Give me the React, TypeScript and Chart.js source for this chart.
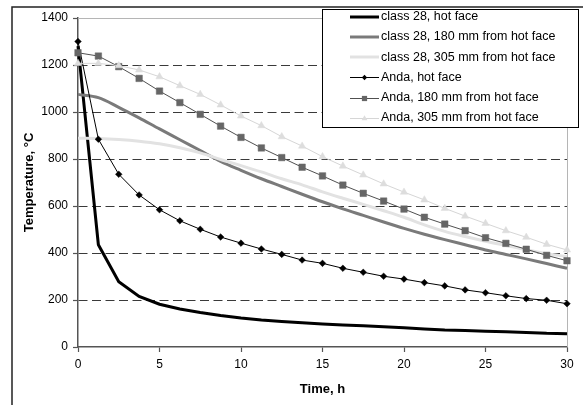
import React, { useEffect, useRef } from 'react';
import { Chart, registerables } from 'chart.js';

Chart.register(...registerables);

const FONT = "'Liberation Sans', Arial, sans-serif";

// Time, h
const times = [0, 1.25, 2.5, 3.75, 5, 6.25, 7.5, 8.75, 10, 11.25, 12.5, 13.75, 15, 16.25, 17.5, 18.75, 20, 21.25, 22.5, 23.75, 25, 26.25, 27.5, 28.75, 30];

// Temperature, °C
const class28Hot = [1280, 435, 278, 215, 182, 162, 147, 134, 123, 115, 109, 103, 98, 94, 90, 86, 82, 77, 72, 70, 67, 65, 62, 58, 56];
const class28At180 = [1075, 1061, 1020, 975, 928, 882, 836, 790, 752, 716, 683, 650, 618, 588, 560, 532, 505, 480, 457, 435, 413, 394, 375, 355, 335];
const class28At305 = [888, 887, 883, 876, 865, 848, 826, 798, 772, 745, 716, 690, 660, 633, 607, 580, 552, 520, 492, 470, 450, 432, 414, 397, 385];
const andaHot = [1300, 884, 735, 647, 584, 537, 501, 468, 442, 417, 394, 370, 356, 335, 318, 301, 289, 274, 260, 243, 231, 218, 206, 199, 184];
const andaAt180 = [1252, 1238, 1193, 1143, 1089, 1040, 990, 940, 892, 847, 806, 765, 728, 689, 654, 621, 587, 552, 523, 495, 465, 441, 416, 390, 367];
const andaAt305 = [1207, 1207, 1197, 1179, 1150, 1112, 1075, 1030, 983, 942, 895, 855, 810, 770, 732, 694, 659, 626, 590, 557, 526, 495, 467, 437, 413];

const seriesLabels = [
  'class 28, hot face',
  'class 28, 180 mm from hot face',
  'class 28, 305 mm from hot face',
  'Anda, hot face',
  'Anda, 180 mm from hot face',
  'Anda, 305 mm from hot face',
];

const xTitle = 'Time, h';
const yTitle = 'Temperature, °C';

type Style = {
  color: string;
  width: number;
  marker: 'none' | 'rectRot' | 'rect' | 'triangle';
  markerColor: string;
  radius: number;
  smooth: boolean;
};

const styles: Style[] = [
  { color: '#000000', width: 3, marker: 'none', markerColor: '#000', radius: 0, smooth: false },
  { color: '#7a7a7a', width: 3, marker: 'none', markerColor: '#7a7a7a', radius: 0, smooth: true },
  { color: '#e2e2e2', width: 3, marker: 'none', markerColor: '#e2e2e2', radius: 0, smooth: true },
  { color: '#000000', width: 1, marker: 'rectRot', markerColor: '#000000', radius: 3.3, smooth: false },
  { color: '#505050', width: 1, marker: 'rect', markerColor: '#666666', radius: 4.6, smooth: false },
  { color: '#d6d6d6', width: 1, marker: 'triangle', markerColor: '#dddddd', radius: 4.2, smooth: false },
];

const seriesValues = [class28Hot, class28At180, class28At305, andaHot, andaAt180, andaAt305];

function drawMarker(ctx: CanvasRenderingContext2D, kind: string, x: number, y: number, r: number, color: string) {
  ctx.save();
  ctx.fillStyle = color;
  ctx.beginPath();
  if (kind === 'rectRot') {
    ctx.moveTo(x, y - r);
    ctx.lineTo(x + r, y);
    ctx.lineTo(x, y + r);
    ctx.lineTo(x - r, y);
  } else if (kind === 'rect') {
    const s = r * Math.SQRT1_2;
    ctx.rect(x - s, y - s, 2 * s, 2 * s);
  } else if (kind === 'triangle') {
    ctx.moveTo(x, y - r);
    ctx.lineTo(x + r * Math.sin((2 * Math.PI) / 3), y - r * Math.cos((2 * Math.PI) / 3));
    ctx.lineTo(x - r * Math.sin((2 * Math.PI) / 3), y - r * Math.cos((2 * Math.PI) / 3));
  }
  ctx.closePath();
  ctx.fill();
  ctx.restore();
}

export default function App() {
  const ref = useRef<HTMLCanvasElement>(null);

  useEffect(() => {
    const canvas = ref.current;
    if (!canvas) return;

    const framePlugin = {
      id: 'frame',
      beforeDraw(chart: any) {
        const c = chart.ctx as CanvasRenderingContext2D;
        c.save();
        c.fillStyle = '#ffffff';
        c.fillRect(0, 0, chart.width, chart.height);
        c.strokeStyle = '#222222';
        c.lineWidth = 1.5;
        c.beginPath();
        c.moveTo(12, chart.height);
        c.lineTo(12, 7);
        c.lineTo(chart.width, 7);
        c.stroke();
        c.restore();
      },
      beforeDatasetsDraw(chart: any) {
        const c = chart.ctx as CanvasRenderingContext2D;
        const a = chart.chartArea;
        const yTop = Math.round(chart.scales.y.getPixelForValue(1400)) + 0.5;
        c.save();
        c.strokeStyle = '#b5b5b5';
        c.lineWidth = 1;
        c.beginPath();
        c.moveTo(a.left, yTop);
        c.lineTo(Math.round(a.right) + 0.5, yTop);
        c.lineTo(Math.round(a.right) + 0.5, a.bottom);
        c.stroke();
        c.restore();
      },
    };

    const legendPlugin = {
      id: 'boxLegend',
      afterDraw(chart: any) {
        const c = chart.ctx as CanvasRenderingContext2D;
        const bx = 322.5, by = 9.5, bw = 256, bh = 118;
        c.save();
        c.fillStyle = '#ffffff';
        c.fillRect(bx, by, bw, bh);
        c.strokeStyle = '#000000';
        c.lineWidth = 1;
        c.strokeRect(bx, by, bw, bh);
        c.font = `12.5px ${FONT}`;
        c.textBaseline = 'middle';
        c.textAlign = 'left';
        seriesLabels.forEach((label, i) => {
          const st = styles[i];
          const y = 16.5 + i * 20.3;
          c.strokeStyle = st.color;
          c.lineWidth = st.width;
          c.beginPath();
          c.moveTo(350, Math.round(y) + (st.width === 1 ? 0.5 : 0));
          c.lineTo(379, Math.round(y) + (st.width === 1 ? 0.5 : 0));
          c.stroke();
          if (st.marker !== 'none') {
            drawMarker(c, st.marker, 364.5, Math.round(y) + 0.5, st.radius * 0.8, st.markerColor);
          }
          c.fillStyle = '#000000';
          c.fillText(label, 381, y);
        });
        c.restore();
      },
    };

    const datasets = seriesLabels.map((label, i) => {
      const st = styles[i];
      return {
        label,
        data: times.map((t, j) => ({ x: t, y: seriesValues[i][j] })),
        borderColor: st.color,
        backgroundColor: st.markerColor,
        borderWidth: st.width,
        pointStyle: st.marker === 'none' ? 'circle' : st.marker,
        pointRadius: st.radius,
        pointBackgroundColor: st.markerColor,
        pointBorderColor: st.markerColor,
        pointBorderWidth: 0.5,
        cubicInterpolationMode: st.smooth ? 'monotone' : 'default',
        tension: 0,
        fill: false,
        clip: false,
        order: 5 - i,
      };
    });

    const chart = new Chart(canvas, {
      type: 'line',
      data: { datasets } as any,
      plugins: [framePlugin, legendPlugin],
      options: {
        responsive: false,
        animation: false,
        devicePixelRatio: 1,
        layout: { padding: { left: 0, right: 16, top: 18, bottom: 0 } },
        plugins: { legend: { display: false }, tooltip: { enabled: false } },
        scales: {
          x: {
            type: 'linear',
            min: 0,
            max: 30,
            ticks: { stepSize: 5, color: '#000', font: { family: FONT, size: 12 }, padding: 5, maxRotation: 0, callback: (v: any) => String(v) },
            grid: { drawOnChartArea: false, drawTicks: true, tickLength: 5, tickColor: '#555', tickWidth: 1.2 },
            border: { color: '#555', width: 1.5 },
            title: { display: true, text: xTitle, color: '#000', font: { family: FONT, size: 13, weight: 'bold' }, padding: { top: 0, bottom: 8 } },
            afterFit: (s: any) => { s.height = 58; },
          },
          y: {
            min: 0,
            max: 1400,
            ticks: { stepSize: 200, color: '#000', font: { family: FONT, size: 12 }, padding: 5, callback: (v: any) => String(v) },
            grid: {
              color: (ctx: any) => (ctx.tick && (ctx.tick.value === 1400 || ctx.tick.value === 0) ? 'rgba(0,0,0,0)' : '#3a3a3a'),
              lineWidth: 1,
              tickLength: 5,
              tickColor: '#555',
              tickWidth: 1.2,
              tickBorderDash: [],
            },
            border: { color: '#555', width: 1.5, dash: [9, 4.5] },
            title: { display: true, text: yTitle, color: '#000', font: { family: FONT, size: 13, weight: 'bold' }, padding: { top: 22, bottom: 0 } },
            afterFit: (s: any) => { s.width = 78; },
          },
        },
      } as any,
    });

    return () => chart.destroy();
  }, []);

  return (
    <div style={{ position: 'fixed', left: 0, top: 0, width: 583, height: 405, background: '#fff' }}>
      <canvas ref={ref} width={583} height={405} style={{ display: 'block', width: 583, height: 405 }} />
    </div>
  );
}
